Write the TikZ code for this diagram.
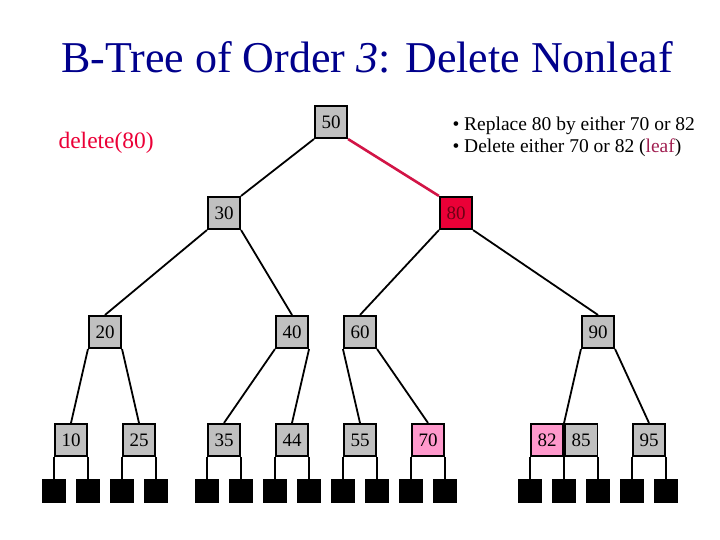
\documentclass[tikz,border=0pt]{standalone}
\usepackage{fontspec}
\setmainfont{Liberation Serif}
\usetikzlibrary{positioning}
\definecolor{titleblue}{RGB}{0,0,140}
\definecolor{keygray}{RGB}{192,192,192}
\definecolor{delred}{RGB}{235,0,55}
\definecolor{linkred}{RGB}{210,20,70}
\definecolor{pickpink}{RGB}{255,153,204}
\definecolor{leafplum}{RGB}{160,30,80}
\tikzset{
  key/.style={draw,fill=keygray,line width=1.6pt,minimum size=32.5pt,inner sep=0pt,font=\fontsize{19}{19}\selectfont},
  delkey/.style={key,fill=delred,text={rgb,255:red,110;green,0;blue,20}},
  pickkey/.style={key,fill=pickpink},
  ext/.style={fill=black,minimum size=24pt,inner sep=0pt},
  link/.style={line width=1.8pt},
}

\begin{document}
\begin{tikzpicture}[x=1pt,y=-1pt]
    \useasboundingbox (0,0) rectangle (720,540);
    \node[anchor=base,text=titleblue,font=\fontsize{44}{50}\selectfont] (title) at (367,73) {B-Tree of Order \textit{3}: Delete Nonleaf};
    \node[anchor=base west,text=delred,font=\fontsize{23.5}{26}\selectfont] (op) at (55,149) {delete(80)};
    \node[anchor=base west,align=left,font=\fontsize{19.5}{22}\selectfont] (note) at (449,153) {\textbullet{} Replace 80 by either 70 or 82\\ \textbullet{} Delete either 70 or 82 (\textcolor{leafplum}{leaf})};
    % internal nodes
    \node[key] (n50) at (331,122) {50};
    \node[key] (n30) at (224,213) {30};
    \node[delkey] (n80) at (456,213) {80};
    \node[key] (n20) at (105,332) {20};
    \node[key] (n40) at (292,332) {40};
    \node[key] (n60) at (360,332) {60};
    \node[key] (n90) at (598,332) {90};
    % leaves
    \node[key] (n10) at (71,440) {10};
    \node[key] (n25) at (139,440) {25};
    \node[key] (n35) at (224,440) {35};
    \node[key] (n44) at (292,440) {44};
    \node[key] (n55) at (360,440) {55};
    \node[pickkey] (n70) at (428,440) {70};
    \node[pickkey] (n82) at (547,440) {82};
    \node[key,right=0pt of n82] (n85) {85};
    \node[key] (n95) at (649,440) {95};
    % tree links
    \draw[link] (n50.south west) -- (n30.north east);
    \draw[link,linkred,line width=2.6pt] (n50.south east) -- (n80.north west);
    \draw[link] (n30.south west) -- (n20.north);
    \draw[link] (n30.south east) -- (n40.north);
    \draw[link] (n80.south west) -- (n60.north);
    \draw[link] (n80.south east) -- (n90.north);
    \draw[link] (n20.south west) -- (n10.north);
    \draw[link] (n20.south east) -- (n25.north);
    \draw[link] (n40.south west) -- (n35.north);
    \draw[link] (n40.south east) -- (n44.north);
    \draw[link] (n60.south west) -- (n55.north);
    \draw[link] (n60.south east) -- (n70.north);
    \draw[link] (n90.south west) -- (n82.north east);
    \draw[link] (n90.south east) -- (n95.north);
    % external nodes
    \foreach \leaf/\side/\id in {n10/west/1,n10/east/2,n25/west/3,n25/east/4,n35/west/5,n35/east/6,n44/west/7,n44/east/8,n55/west/9,n55/east/10,n70/west/11,n70/east/12,n82/west/13,n82/east/14,n85/east/15,n95/west/16,n95/east/17}{
      \node[ext,below=22pt of \leaf.south \side,anchor=north] (x\id) {};
      \draw[link] (\leaf.south \side) -- (x\id.north);
    }
\end{tikzpicture}
\end{document}
